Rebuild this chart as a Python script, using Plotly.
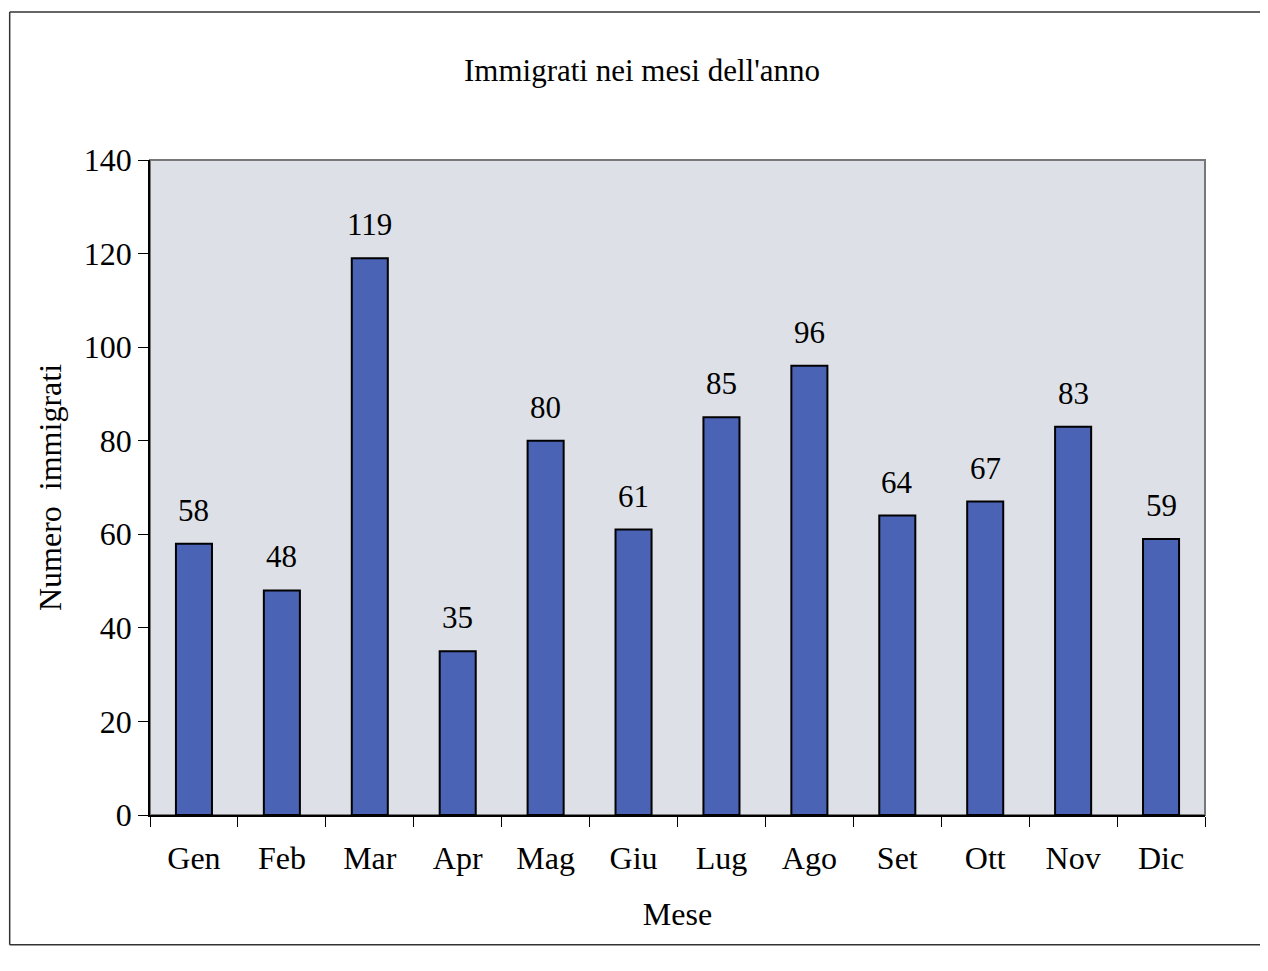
import plotly.graph_objects as go

mesi = ["Gen", "Feb", "Mar", "Apr", "Mag", "Giu", "Lug", "Ago", "Set", "Ott", "Nov", "Dic"]
immigrati = [58, 48, 119, 35, 80, 61, 85, 96, 64, 67, 83, 59]

font_serif = "Liberation Serif, Times New Roman, serif"

fig = go.Figure()

fig.add_trace(
    go.Bar(
        x=mesi,
        y=immigrati,
        marker=dict(color="#4a63b5", line=dict(color="black", width=2)),
        width=0.41,
    )
)

# value labels above bars
for m, v in zip(mesi, immigrati):
    fig.add_annotation(
        x=m, y=v, text=str(v), showarrow=False,
        yanchor="bottom", yshift=14,
        font=dict(family=font_serif, size=31, color="black"),
    )

# grey border of the plot area
fig.add_shape(
    type="rect", xref="paper", yref="paper", x0=0, y0=0, x1=1, y1=1,
    line=dict(color="#777777", width=2), layer="below",
)
# outer frame lines of the scanned page
fig.add_shape(type="line", xref="paper", yref="paper", x0=-0.133, y0=1.226, x1=1.06, y1=1.226,
              line=dict(color="#333333", width=1.5))
fig.add_shape(type="line", xref="paper", yref="paper", x0=-0.133, y0=1.226, x1=-0.133, y1=-0.198,
              line=dict(color="#333333", width=1.5))
fig.add_shape(type="line", xref="paper", yref="paper", x0=-0.133, y0=-0.198, x1=1.06, y1=-0.198,
              line=dict(color="#333333", width=1.5))

fig.update_layout(
    width=1268,
    height=971,
    margin=dict(l=142, r=71, t=152, b=164),
    paper_bgcolor="white",
    plot_bgcolor="#dde1e7",
    showlegend=False,
    font=dict(family=font_serif, color="black"),
    title=dict(
        text="Immigrati nei mesi dell'anno",
        x=0.5, xanchor="center", y=0.936, yanchor="middle",
        font=dict(family=font_serif, size=31, color="black"),
    ),
)

fig.update_xaxes(
    title=dict(text="Mese", font=dict(family=font_serif, size=32), standoff=27),
    tickfont=dict(family=font_serif, size=32),
    ticklabelstandoff=14,
    showline=True, linecolor="black", linewidth=1.5,
    ticks="outside", ticklen=10, tickcolor="black", tickson="boundaries",
    showgrid=False,
)
fig.update_yaxes(
    title=dict(text="Numero  immigrati", font=dict(family=font_serif, size=32), standoff=13),
    tickfont=dict(family=font_serif, size=32),
    range=[0, 140], dtick=20,
    showline=True, linecolor="black", linewidth=1.5,
    ticks="outside", ticklen=10, tickcolor="black",
    showgrid=False, zeroline=False,
)

fig.write_html("out.html")
